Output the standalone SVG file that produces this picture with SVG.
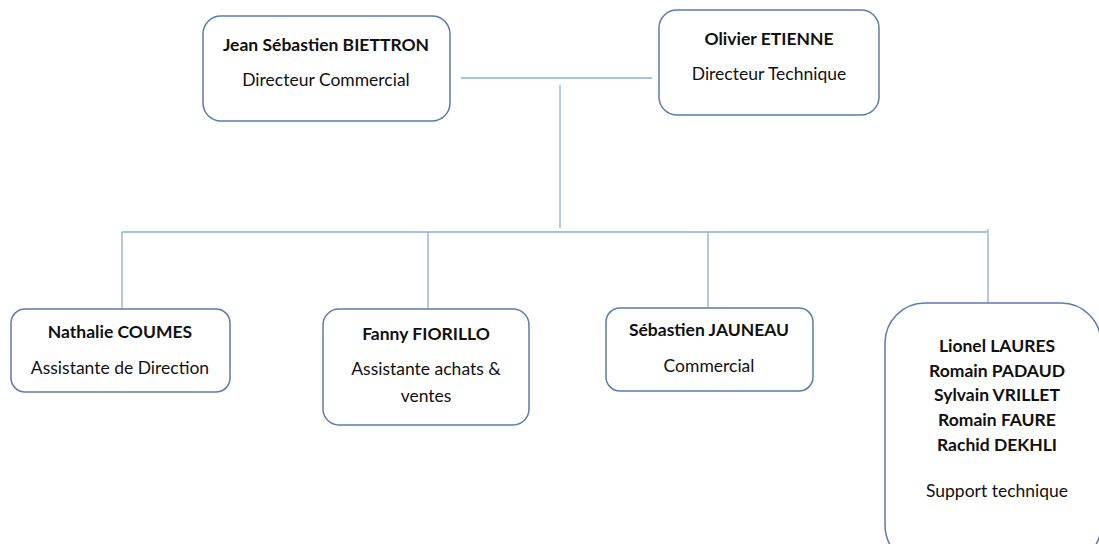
<svg xmlns="http://www.w3.org/2000/svg" width="1099" height="544" viewBox="0 0 1099 544">
<style>
.box{fill:#fff;stroke:#5b7bb1;stroke-width:1.5}
.c{stroke:#86aedc;stroke-width:1.3;fill:none}
text{font-family:Lato,"Open Sans","Liberation Sans",sans-serif;font-size:17.5px;fill:#111;text-anchor:middle}
.b{font-weight:bold}
</style>
<rect width="1099" height="544" fill="#fff"/>
<g id="connectors">
<line class="c" x1="461" y1="78" x2="652" y2="78"/>
<line class="c" x1="560" y1="85" x2="560" y2="228"/>
<line class="c" x1="122" y1="232" x2="987" y2="232"/>
<line class="c" x1="122" y1="232" x2="122" y2="309"/>
<line class="c" x1="428" y1="232" x2="428" y2="309"/>
<line class="c" x1="708" y1="232" x2="708" y2="308"/>
<line class="c" x1="988" y1="229" x2="988" y2="303"/>
</g>
<g id="biettron">
<rect class="box" x="203" y="16" width="247" height="105" rx="18"/>
<text class="b" x="326" y="51">Jean Sébastien BIETTRON</text>
<text x="326" y="86">Directeur Commercial</text>
</g>
<g id="etienne">
<rect class="box" x="659" y="10" width="220" height="105" rx="18"/>
<text class="b" x="769" y="45">Olivier ETIENNE</text>
<text x="769" y="80">Directeur Technique</text>
</g>
<g id="coumes">
<rect class="box" x="11" y="309" width="219" height="83" rx="14"/>
<text class="b" x="120" y="338">Nathalie COUMES</text>
<text x="120" y="374">Assistante de Direction</text>
</g>
<g id="fiorillo">
<rect class="box" x="323" y="309" width="206" height="116" rx="16"/>
<text class="b" x="426" y="340">Fanny FIORILLO</text>
<text x="426" y="375">Assistante achats &amp;</text>
<text x="426" y="402">ventes</text>
</g>
<g id="jauneau">
<rect class="box" x="606" y="308" width="207" height="83" rx="14"/>
<text class="b" x="709" y="336">Sébastien JAUNEAU</text>
<text x="709" y="372">Commercial</text>
</g>
<g id="support">
<rect class="box" x="885" y="303" width="216" height="262" rx="40"/>
<text class="b" x="997" y="352">Lionel LAURES</text>
<text class="b" x="997" y="377">Romain PADAUD</text>
<text class="b" x="997" y="401">Sylvain VRILLET</text>
<text class="b" x="997" y="426">Romain FAURE</text>
<text class="b" x="997" y="451">Rachid DEKHLI</text>
<text x="997" y="497">Support technique</text>
</g>
</svg>
